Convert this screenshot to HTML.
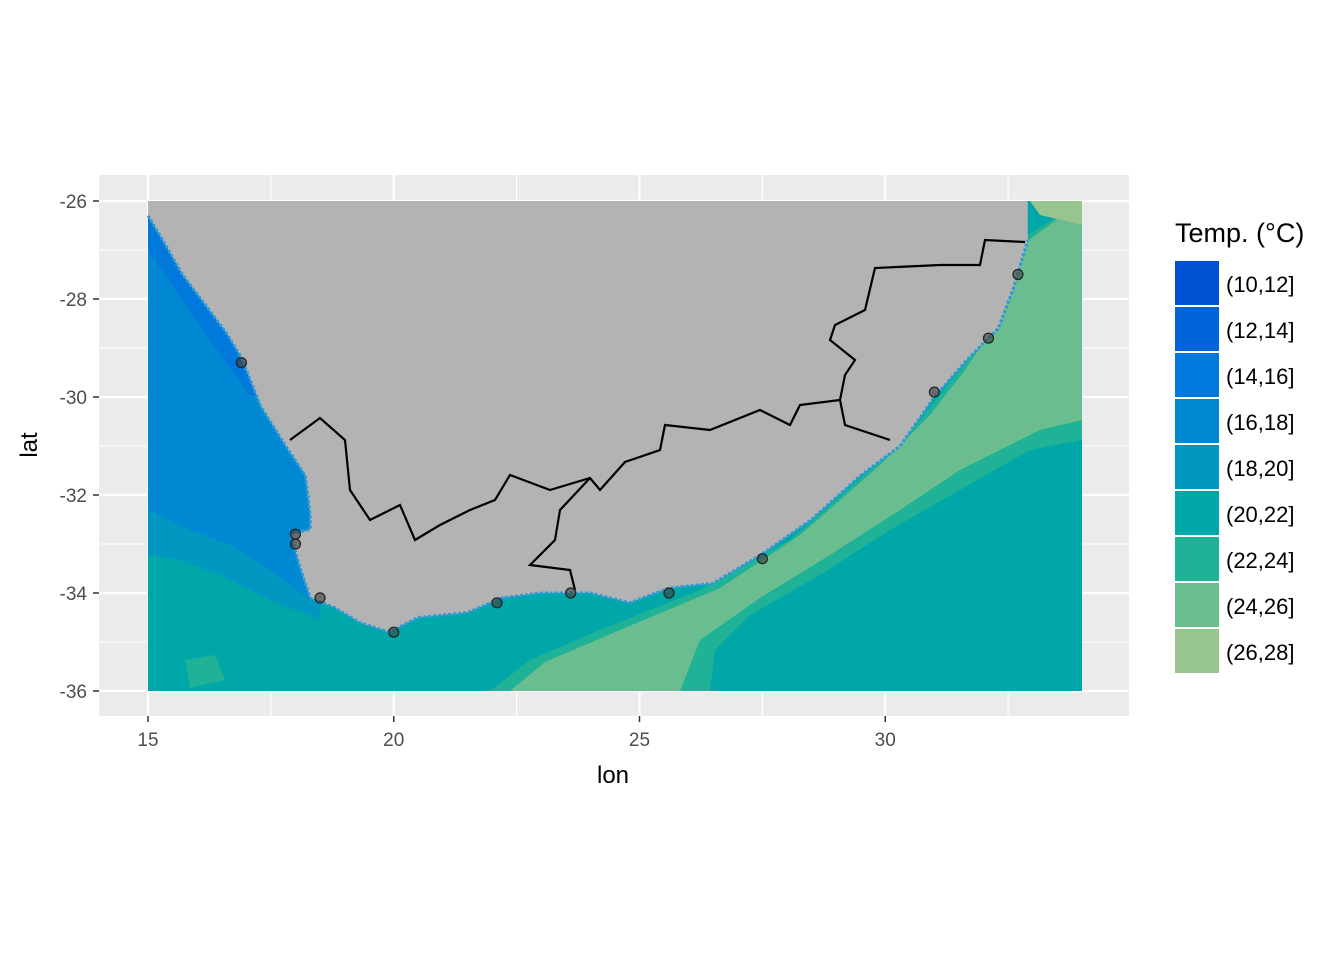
<!DOCTYPE html>
<html><head><meta charset="utf-8"><style>
body{margin:0;background:#fff}
svg{display:block;font-family:"Liberation Sans",sans-serif}
</style></head><body>
<svg id="chart" width="1344" height="960" viewBox="0 0 1344 960">
<rect x="99" y="175" width="1030" height="541" fill="#EBEBEB"/>
<g id="grid"></g>
<g id="ocean"></g>
<g id="land"></g>
<g id="sites"></g>
<g id="axes"></g>
<text x="613" y="783" font-size="24" text-anchor="middle" fill="#000">lon</text>
<text x="0" y="0" font-size="24" text-anchor="middle" fill="#000" transform="translate(37,445) rotate(-90)">lat</text>
<g id="legend">
<text x="1175" y="242" font-size="27" fill="#000">Temp. (°C)</text>
</g>
</svg>
<script>
const lonTicks=[15,20,25,30];
const latTicks=[-26,-28,-30,-32,-34,-36];
const legendLabels=["(10,12]","(12,14]","(14,16]","(16,18]","(18,20]","(20,22]","(22,24]","(24,26]","(26,28]"];
const legendColors=["#0050D2","#0064DC","#0078DC","#0088D2","#0098C0","#00A7A8","#1FB296","#6ABD8F","#98C48E"];
const siteLon=[16.9,18.0,18.0,18.5,20.0,22.1,23.6,25.6,27.5,31.0,32.1,32.7];
const siteLat=[-29.3,-32.8,-33.0,-34.1,-34.8,-34.2,-34.0,-34.0,-33.3,-29.9,-28.8,-27.5];
const NS="http://www.w3.org/2000/svg";
const X=lon=>148+(lon-15)*49.15;
const Y=lat=>201+(-26-lat)*49;
function mk(tag,attrs,parent){const e=document.createElementNS(NS,tag);for(const k in attrs)e.setAttribute(k,attrs[k]);parent.appendChild(e);return e;}
const grid=document.getElementById('grid');
lonTicks.forEach(v=>{
 const l=mk('line',{x1:X(v),x2:X(v),y1:175,y2:716,stroke:'#fff','stroke-width':2.2},grid);
 
 
 const m=mk('line',{x1:X(v+2.5),x2:X(v+2.5),y1:175,y2:716,stroke:'#fff','stroke-width':1.1},grid);
 
 
});
latTicks.forEach((v,i)=>{
 const l=mk('line',{x1:99,x2:1129,y1:Y(v),y2:Y(v),stroke:'#fff','stroke-width':2.2},grid);
 
 
 if(i<latTicks.length-1){const m=mk('line',{x1:99,x2:1129,y1:Y(v-1),y2:Y(v-1),stroke:'#fff','stroke-width':1.1},grid);
 
 }
});
const ocean=document.getElementById('ocean');
function poly(pts,fill,name,parent){const p=mk('polygon',{points:pts.map(p=>p.join(',')).join(' '),fill:fill},parent);return p;}
poly([[148,201],[1082,201],[1082,691],[148,691]],legendColors[5],'ocean-20-22',ocean);
poly([[148,201],[320,201],[330,470],[320,620],[270,600],[220,575],[180,560],[148,555]],legendColors[4],'ocean-18-20',ocean);
poly([[148,201],[300,201],[315,520],[310,600],[270,570],[230,545],[190,530],[148,510]],legendColors[3],'ocean-16-18',ocean);
poly([[148,215],[200,290],[240,345],[262,400],[250,395],[210,340],[165,275],[148,250]],legendColors[2],'ocean-14-16',ocean);
poly([[490,691],[530,660],[600,630],[700,590],[790,540],[870,470],[920,420],[960,370],[1000,310],[1020,240],[1082,201],[1082,440],[1030,450],[960,490],[890,530],[820,575],[750,615],[715,650],[710,691]],legendColors[6],'ocean-22-24',ocean);
poly([[510,691],[545,662],[620,630],[720,588],[800,535],[880,465],[930,415],[965,370],[1005,310],[1022,245],[1082,201],[1082,420],[1040,430],[960,470],[900,510],[830,555],[760,598],[700,640],[680,691]],legendColors[7],'ocean-24-26',ocean);
poly([[1030,201],[1082,201],[1082,225],[1040,215]],legendColors[8],'ocean-26-28',ocean);
poly([[185,660],[215,655],[225,680],[190,688]],legendColors[6],'ocean-warm-patch',ocean);
const land=document.getElementById('land');
const coast=[[15,-26],[15,-26.3],[15.3,-26.8],[15.7,-27.5],[16.3,-28.3],[16.6,-28.7],[16.9,-29.2],[17.3,-30.2],[17.8,-31],[18.2,-31.6],[18.3,-32.4],[18.3,-32.7],[17.9,-32.8],[18.1,-33.5],[18.3,-34.1],[18.8,-34.3],[19.3,-34.6],[19.9,-34.8],[20.5,-34.5],[21.5,-34.4],[22.2,-34.1],[23,-34],[24,-34],[24.8,-34.2],[25.6,-33.9],[26.5,-33.8],[27.5,-33.2],[28.5,-32.5],[29.5,-31.6],[30.3,-31],[31,-30],[31.7,-29.2],[32.3,-28.6],[32.6,-27.8],[32.9,-26.8],[32.9,-26]];
poly(coast.map(p=>[X(p[0]),Y(p[1])]),'#B3B3B3','land-polygon',land);
const coastLine=mk('polyline',{points:coast.slice(1,-1).map(p=>X(p[0])+','+Y(p[1])).join(' '),fill:'none',stroke:'#2a9ad8','stroke-width':3,'stroke-dasharray':'3 2'},land);


const borders=[
 [[290,440],[320,418],[345,440],[350,490],[370,520],[400,505],[415,540],[440,525],[470,510],[495,500],[510,475],[550,490],[590,478],[600,490],[625,462],[660,450],[665,425],[710,430],[760,410],[790,425],[800,405],[840,400],[845,375],[855,360],[830,340],[835,325],[865,310],[875,268],[940,265],[980,265],[985,240],[1025,242]],
 [[590,478],[560,510],[555,540],[530,565],[570,570],[575,590]],
 [[840,400],[845,425],[890,440]]];
borders.forEach(b=>{const l=mk('polyline',{points:b.map(p=>p.join(',')).join(' '),fill:'none',stroke:'#000','stroke-width':2.2},land);
 
 });
const sites=document.getElementById('sites');
siteLon.forEach((lo,i)=>{const c=mk('circle',{cx:X(lo),cy:Y(siteLat[i]),r:5,fill:'rgba(60,60,60,0.6)',stroke:'#222','stroke-width':1.2},sites);
 
 });
const axes=document.getElementById('axes');
lonTicks.forEach(v=>{
 const t=mk('line',{x1:X(v),x2:X(v),y1:716,y2:722,stroke:'#333','stroke-width':1.5},axes);
 
 
 const s=mk('text',{x:X(v),y:746,'font-size':19,'text-anchor':'middle',fill:'#4D4D4D'},axes);s.textContent=v;
 
 
});
latTicks.forEach(v=>{
 const t=mk('line',{x1:93,x2:99,y1:Y(v),y2:Y(v),stroke:'#333','stroke-width':1.5},axes);
 
 
 const s=mk('text',{x:87,y:Y(v)+7,'font-size':19,'text-anchor':'end',fill:'#4D4D4D'},axes);s.textContent=v;
 
 
});
const legend=document.getElementById('legend');
legendLabels.forEach((lab,i)=>{
 const r=mk('rect',{x:1175,y:261+i*46,width:44,height:44,fill:legendColors[i]},legend);
 
 
 const t=mk('text',{x:1226,y:292+i*46,'font-size':22,fill:'#000'},legend);t.textContent=lab;
 
 
});
</script>
</body></html>
